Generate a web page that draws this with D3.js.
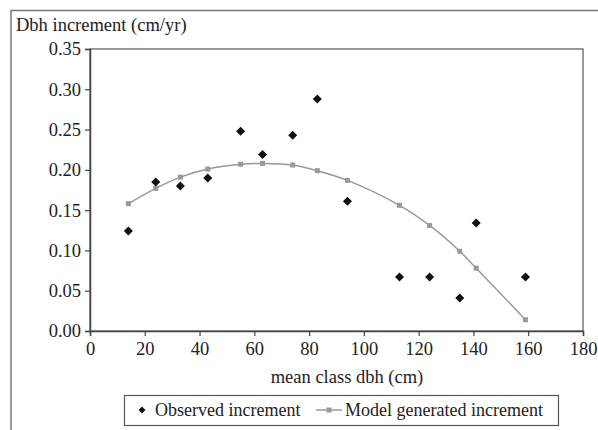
<!DOCTYPE html>
<html>
<head>
<meta charset="utf-8">
<script src="https://cdn.jsdelivr.net/npm/d3@7"></script>
<style>
  body { margin: 0; background: #fff; }
  text { font-family: "Liberation Serif", "Times New Roman", serif; fill: #222; }
</style>
</head>
<body>
<svg id="chart"></svg>
<script>
// mean class dbh (cm)
const dbhClasses = [14, 24, 33, 43, 55, 63, 74, 83, 94, 113, 124, 135, 141, 159];
// observed increment (cm/yr)
const observed = [0.124, 0.185, 0.180, 0.190, 0.248, 0.219, 0.243, 0.288, 0.161, 0.067, 0.067, 0.041, 0.134, 0.067];
// model generated increment (cm/yr)
const modelled = [0.158, 0.177, 0.191, 0.201, 0.207, 0.208, 0.206, 0.199, 0.187, 0.156, 0.131, 0.099, 0.078, 0.014];
const xTicks = [0, 20, 40, 60, 80, 100, 120, 140, 160, 180];
const yTicks = [0, 0.05, 0.10, 0.15, 0.20, 0.25, 0.30, 0.35];

const width = 598, height = 430;
const margin = { top: 49, right: 15, bottom: 99, left: 90 };
const innerW = width - margin.left - margin.right;
const innerH = height - margin.top - margin.bottom;

const svg = d3.select('#chart')
  .attr('width', width)
  .attr('height', height);

// outer frame (clipped at right and bottom)
svg.append('path')
  .attr('d', `M11,${height + 2} L11,10.5 L${width + 2},10.5`)
  .attr('fill', 'none')
  .attr('stroke', '#777')
  .attr('stroke-width', 1.5);

const g = svg.append('g')
  .attr('transform', `translate(${margin.left},${margin.top})`);

const x = d3.scaleLinear().domain([0, 180]).range([0, innerW]);
const y = d3.scaleLinear().domain([0, 0.35]).range([innerH, 0]);

// plot area border
g.append('rect')
  .attr('width', innerW)
  .attr('height', innerH)
  .attr('fill', 'none')
  .attr('stroke', '#555')
  .attr('stroke-width', 1.2);

const xAxis = g.append('g')
  .attr('transform', `translate(0,${innerH})`)
  .call(d3.axisBottom(x).tickValues(xTicks).tickSize(5).tickPadding(6).tickFormat(d3.format('d')));

const yAxis = g.append('g')
  .call(d3.axisLeft(y).tickValues(yTicks).tickSize(5).tickPadding(4).tickFormat(d3.format('.2f')));

[xAxis, yAxis].forEach(a => {
  a.select('.domain').attr('stroke', '#444').attr('stroke-width', 1.5);
  a.selectAll('.tick line').attr('stroke', '#444').attr('stroke-width', 1.2);
  a.selectAll('.tick text')
    .style('font-family', '"Liberation Serif", "Times New Roman", serif')
    .style('font-size', '18.5px')
    .attr('fill', '#222');
});

// model line
const modelData = dbhClasses.map((d, i) => ({ x: d, y: modelled[i] }));
g.append('path')
  .datum(modelData)
  .attr('fill', 'none')
  .attr('stroke', '#999')
  .attr('stroke-width', 1.5)
  .attr('d', d3.line().x(d => x(d.x)).y(d => y(d.y)).curve(d3.curveCatmullRom));

g.selectAll('.model-pt')
  .data(modelData)
  .join('rect')
  .attr('class', 'model-pt')
  .attr('x', d => x(d.x) - 2.5)
  .attr('y', d => y(d.y) - 2.5)
  .attr('width', 5)
  .attr('height', 5)
  .attr('fill', '#999');

// observed points
const diamond = d3.symbol().type(d3.symbolDiamond2).size(52);
g.selectAll('.obs-pt')
  .data(dbhClasses.map((d, i) => ({ x: d, y: observed[i] })))
  .join('path')
  .attr('class', 'obs-pt')
  .attr('transform', d => `translate(${x(d.x)},${y(d.y)})`)
  .attr('d', diamond)
  .attr('fill', '#111');

// axis titles
svg.append('text')
  .attr('x', 16)
  .attr('y', 31)
  .style('font-size', '18.5px')
  .text('Dbh increment (cm/yr)');

svg.append('text')
  .attr('x', 347)
  .attr('y', 383)
  .attr('text-anchor', 'middle')
  .style('font-size', '18.5px')
  .text('mean class dbh (cm)');

// legend
const legend = svg.append('g');
legend.append('rect')
  .attr('x', 124.5)
  .attr('y', 395.5)
  .attr('width', 434)
  .attr('height', 30)
  .attr('fill', '#fff')
  .attr('stroke', '#555')
  .attr('stroke-width', 1.2);

legend.append('path')
  .attr('transform', 'translate(142,410)')
  .attr('d', d3.symbol().type(d3.symbolDiamond2).size(30))
  .attr('fill', '#111');
legend.append('text')
  .attr('x', 155)
  .attr('y', 416)
  .style('font-size', '18px')
  .text('Observed increment');

legend.append('line')
  .attr('x1', 316).attr('x2', 342)
  .attr('y1', 410).attr('y2', 410)
  .attr('stroke', '#999')
  .attr('stroke-width', 1.5);
legend.append('rect')
  .attr('x', 326.5).attr('y', 407.5)
  .attr('width', 5).attr('height', 5)
  .attr('fill', '#999');
legend.append('text')
  .attr('x', 345)
  .attr('y', 416)
  .style('font-size', '18px')
  .text('Model generated increment');
</script>
</body>
</html>
